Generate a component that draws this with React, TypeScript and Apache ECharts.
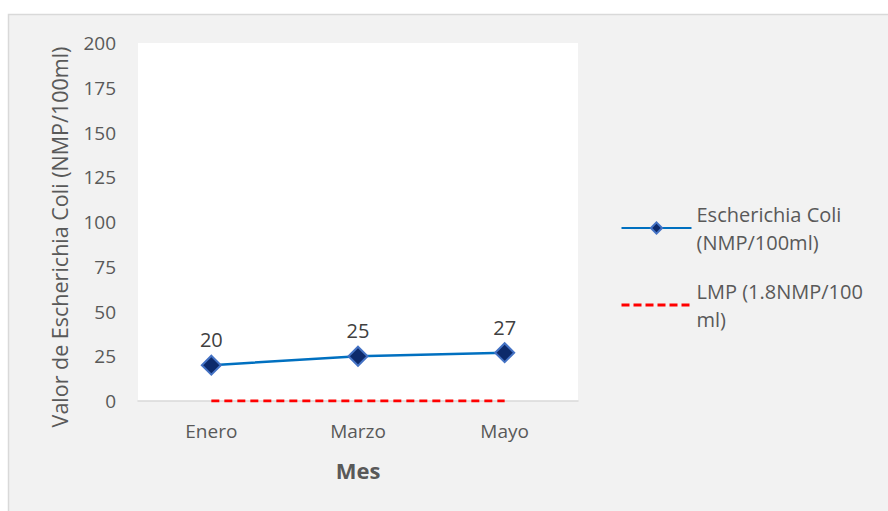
import React, { useEffect, useRef } from "react";
import * as echarts from "echarts";

const categories = ["Enero", "Marzo", "Mayo"];
const ecoliValues = [20, 25, 27];
const lmpValues = [0, 0, 0];
const yTicks = { min: 0, max: 200, interval: 25 };
const seriesNames = ["Escherichia Coli\n(NMP/100ml)", "LMP (1.8NMP/100\nml)"];

const FONT = "'Open Sans', 'Noto Sans', sans-serif";

export default function App() {
  const ref = useRef<HTMLDivElement>(null);
  useEffect(() => {
    if (!ref.current) return;
    const chart = echarts.init(ref.current, null, { renderer: "svg" });
    chart.setOption({
      animation: false,
      backgroundColor: "#ffffff",
      textStyle: { fontFamily: FONT },
      graphic: [
        {
          type: "rect",
          z: -10,
          silent: true,
          shape: { x: 8.5, y: 14.5, width: 900, height: 520 },
          style: { fill: "#f2f2f2", stroke: "#d9d9d9", lineWidth: 1.5 },
        },
      ],
      grid: {
        left: 138,
        right: 310,
        top: 43,
        bottom: 110,
        show: true,
        backgroundColor: "#ffffff",
        borderWidth: 0,
      },
      legend: {
        orient: "vertical",
        left: 615,
        top: 195,
        itemWidth: 70,
        itemHeight: 14,
        itemGap: 21,
        textStyle: { fontFamily: FONT, fontSize: 20, color: "#595959", lineHeight: 28 },
        data: [
          { name: seriesNames[0] },
          {
            name: seriesNames[1],
            itemStyle: { opacity: 0 },
            lineStyle: { width: 3, type: [8, 4], color: "#ff0000" },
          },
        ],
      },
      xAxis: {
        type: "category",
        data: categories,
        boundaryGap: true,
        name: "Mes",
        nameLocation: "middle",
        nameGap: 58,
        nameTextStyle: { fontFamily: FONT, fontSize: 22, fontWeight: "bold", color: "#595959" },
        axisLine: { lineStyle: { color: "#d9d9d9", width: 1.5 } },
        axisTick: { show: false },
        axisLabel: { fontFamily: FONT, fontSize: 19, color: "#595959", margin: 20 },
      },
      yAxis: {
        type: "value",
        min: yTicks.min,
        max: yTicks.max,
        interval: yTicks.interval,
        name: "Valor de Escherichia Coli (NMP/100ml)",
        nameLocation: "middle",
        nameGap: 68,
        nameTextStyle: { fontFamily: FONT, fontSize: 21.5, color: "#595959", padding: [0, 0, 0, -30] },
        axisLine: { show: false },
        axisTick: { show: false },
        splitLine: { show: false },
        axisLabel: { fontFamily: FONT, fontSize: 19, color: "#595959", margin: 22 },
      },
      series: [
        {
          name: seriesNames[0],
          type: "line",
          data: ecoliValues,
          symbol: "diamond",
          symbolSize: 19,
          itemStyle: { color: "#0d2a6b", borderColor: "#4472c4", borderWidth: 2 },
          lineStyle: { color: "#0070c0", width: 2.5 },
          label: {
            show: true,
            position: "top",
            distance: 5,
            fontFamily: FONT,
            fontSize: 20,
            color: "#404040",
          },
          z: 3,
        },
        {
          name: seriesNames[1],
          type: "line",
          data: lmpValues,
          symbol: "none",
          lineStyle: { color: "#ff0000", width: 3, type: [8, 5] },
          itemStyle: { color: "#ff0000" },
          z: 2,
        },
      ],
    });
    return () => chart.dispose();
  }, []);
  return (
    <div
      ref={ref}
      style={{ position: "absolute", left: 0, top: 0, width: 888, height: 511 }}
    />
  );
}
